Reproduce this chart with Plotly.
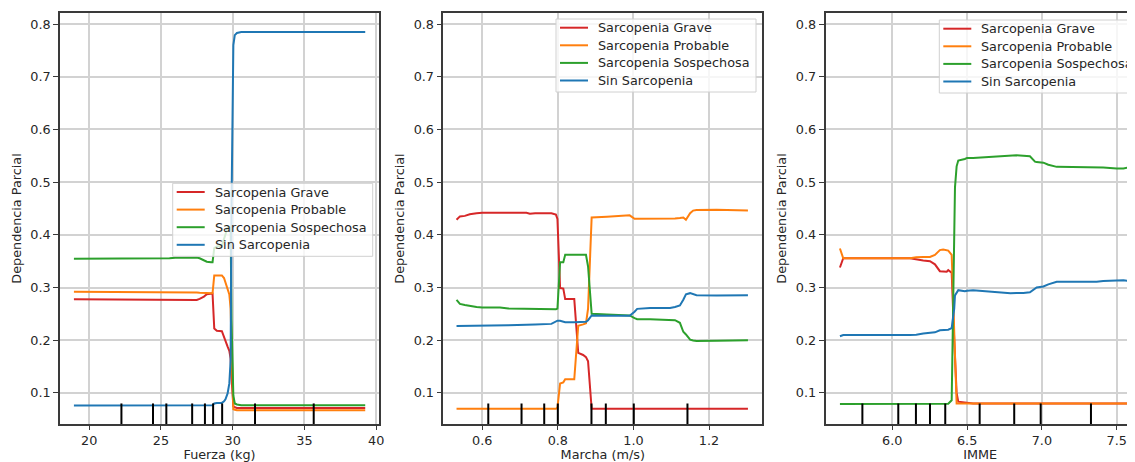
import plotly.graph_objects as go

# ---------------- data ----------------
series_names = ["Sarcopenia Grave", "Sarcopenia Probable", "Sarcopenia Sospechosa", "Sin Sarcopenia"]
series_colors = ["#d62728", "#ff7f0e", "#2ca02c", "#1f77b4"]

# Panel 1: Fuerza (kg)
fuerza_x = [18.94, 22.8, 23.2, 25.6, 26.0, 27.5, 27.7, 28.0, 28.2, 28.5, 28.6, 28.72, 28.9, 29.25,
            29.4, 29.5, 29.65, 29.77, 29.86, 29.92, 30.0, 30.05, 30.15, 30.3, 30.6, 39.24]
fuerza_grave = [0.2777, 0.2777, 0.2764, 0.2764, 0.2764, 0.2764, 0.2785, 0.2828, 0.2873, 0.2880, 0.2886,
                0.2223, 0.2180, 0.2170, 0.2050, 0.2000, 0.1880, 0.1800, 0.1650, 0.1300, 0.0850, 0.0746,
                0.0728, 0.0715, 0.0715, 0.0715]
fuerza_probable = [0.2918, 0.2918, 0.2918, 0.2918, 0.2906, 0.2906, 0.2900, 0.2892, 0.2892, 0.2892, 0.2890,
                   0.3230, 0.3230, 0.3230, 0.3180, 0.3100, 0.2990, 0.2870, 0.2600, 0.1800, 0.0900, 0.0690,
                   0.0680, 0.0671, 0.0671, 0.0671]
fuerza_sospechosa = [0.3545, 0.3545, 0.3555, 0.3555, 0.3565, 0.3570, 0.3555, 0.3520, 0.3490, 0.3480, 0.3480,
                     0.3750, 0.3780, 0.3790, 0.3930, 0.4000, 0.4140, 0.4150, 0.4130, 0.2400, 0.1250, 0.0950,
                     0.0800, 0.0780, 0.0766, 0.0766]
fuerza_sin = [0.0760, 0.0760, 0.0760, 0.0760, 0.0760, 0.0760, 0.0760, 0.0760, 0.0760, 0.0760, 0.0765,
              0.0800, 0.0810, 0.0810, 0.0840, 0.0880, 0.0990, 0.1180, 0.1620, 0.4500, 0.7000, 0.7600,
              0.7790, 0.7830, 0.7850, 0.7850]
fuerza_deciles = [22.25, 24.45, 25.38, 27.18, 28.07, 28.64, 29.27, 31.56, 35.65]

# Panel 2: Marcha (m/s)
marcha_x = [0.532, 0.541, 0.554, 0.567, 0.585, 0.600, 0.647, 0.669, 0.717, 0.726, 0.740, 0.783, 0.795,
            0.799, 0.806, 0.8145, 0.8195, 0.8435, 0.854, 0.867, 0.8745, 0.880, 0.8895, 0.930, 0.990,
            1.003, 1.010, 1.044, 1.097, 1.110, 1.123, 1.132, 1.139, 1.150, 1.158, 1.167, 1.220, 1.303]
marcha_grave = [0.4285, 0.4350, 0.4360, 0.4390, 0.4410, 0.4418, 0.4418, 0.4418, 0.4418, 0.4400, 0.4410,
                0.4410, 0.4383, 0.4300, 0.2990, 0.2980, 0.2780, 0.2780, 0.1760, 0.1720, 0.1680, 0.1600,
                0.0700, 0.0700, 0.0700, 0.0700, 0.0700, 0.0700, 0.0700, 0.0700, 0.0700, 0.0700, 0.0700,
                0.0700, 0.0700, 0.0700, 0.0700, 0.0700]
marcha_probable = [0.0700, 0.0700, 0.0700, 0.0700, 0.0700, 0.0700, 0.0700, 0.0700, 0.0700, 0.0700, 0.0700,
                   0.0700, 0.0700, 0.0720, 0.1180, 0.1200, 0.1260, 0.1260, 0.2276, 0.2300, 0.2320, 0.2600,
                   0.4330, 0.4345, 0.4370, 0.4305, 0.4305, 0.4305, 0.4305, 0.4310, 0.4320, 0.4330, 0.4285,
                   0.4410, 0.4460, 0.4470, 0.4475, 0.4460]
marcha_sospechosa = [0.2766, 0.2690, 0.2670, 0.2650, 0.2630, 0.2620, 0.2620, 0.2600, 0.2595, 0.2590, 0.2590,
                     0.2590, 0.2590, 0.2600, 0.3480, 0.3480, 0.3620, 0.3620, 0.3620, 0.3620, 0.3620, 0.3400,
                     0.2500, 0.2490, 0.2470, 0.2420, 0.2398, 0.2398, 0.2390, 0.2380, 0.2330, 0.2160, 0.2110,
                     0.2010, 0.1995, 0.1987, 0.1990, 0.2000]
marcha_sin = [0.2272, 0.2272, 0.2272, 0.2272, 0.2272, 0.2272, 0.2275, 0.2285, 0.2295, 0.2300, 0.2300,
              0.2310, 0.2350, 0.2370, 0.2370, 0.2360, 0.2340, 0.2340, 0.2340, 0.2340, 0.2350, 0.2380,
              0.2470, 0.2465, 0.2465, 0.2540, 0.2595, 0.2610, 0.2610, 0.2630, 0.2660, 0.2770, 0.2870,
              0.2893, 0.2870, 0.2854, 0.2850, 0.2854]
marcha_deciles = [0.616, 0.704, 0.764, 0.800, 0.889, 0.927, 1.001, 1.143]

# Panel 3: IMME
imme_x = [5.650, 5.672, 6.118, 6.160, 6.207, 6.252, 6.285, 6.318, 6.340, 6.364, 6.374, 6.397, 6.414,
          6.419, 6.430, 6.441, 6.485, 6.500, 6.540, 6.600, 6.653, 6.698, 6.790, 6.830, 6.876, 6.920,
          6.954, 6.965, 7.010, 7.043, 7.099, 7.366, 7.410, 7.500, 7.545, 7.600]
imme_grave = [0.3380, 0.3555, 0.3555, 0.3530, 0.3515, 0.3500, 0.3440, 0.3310, 0.3300, 0.3300, 0.3330,
              0.3280, 0.2000, 0.1600, 0.1000, 0.0833, 0.0820, 0.0815, 0.0800, 0.0800, 0.0800, 0.0800,
              0.0800, 0.0800, 0.0800, 0.0800, 0.0800, 0.0800, 0.0800, 0.0800, 0.0800, 0.0800, 0.0800,
              0.0800, 0.0800, 0.0800]
imme_probable = [0.3740, 0.3555, 0.3555, 0.3575, 0.3580, 0.3580, 0.3620, 0.3710, 0.3720, 0.3710, 0.3700,
                 0.3620, 0.2000, 0.1600, 0.0800, 0.0800, 0.0800, 0.0800, 0.0800, 0.0800, 0.0800, 0.0800,
                 0.0800, 0.0800, 0.0800, 0.0800, 0.0800, 0.0800, 0.0800, 0.0800, 0.0800, 0.0800, 0.0800,
                 0.0800, 0.0800, 0.0800]
imme_sospechosa = [0.0790, 0.0790, 0.0790, 0.0790, 0.0790, 0.0790, 0.0790, 0.0790, 0.0790, 0.0790, 0.0795,
                   0.0860, 0.4410, 0.4900, 0.5300, 0.5410, 0.5440, 0.5460, 0.5460, 0.5470, 0.5480, 0.5485,
                   0.5500, 0.5510, 0.5500, 0.5490, 0.5390, 0.5380, 0.5370, 0.5330, 0.5290, 0.5290, 0.5280,
                   0.5260, 0.5260, 0.5290]
imme_sin = [0.2076, 0.2100, 0.2100, 0.2105, 0.2127, 0.2135, 0.2150, 0.2190, 0.2195, 0.2200, 0.2200,
            0.2230, 0.2600, 0.2850, 0.2900, 0.2950, 0.2930, 0.2940, 0.2950, 0.2935, 0.2920, 0.2910,
            0.2890, 0.2895, 0.2895, 0.2910, 0.2990, 0.3000, 0.3020, 0.3060, 0.3110, 0.3110, 0.3125,
            0.3140, 0.3140, 0.3110]
imme_deciles = [5.80, 6.04, 6.158, 6.252, 6.354, 6.584, 6.815, 6.992, 7.328]

x_titles = ["Fuerza (kg)", "Marcha (m/s)", "IMME"]
y_title = "Dependencia Parcial"

panels = [
    (fuerza_x, [fuerza_grave, fuerza_probable, fuerza_sospechosa, fuerza_sin], fuerza_deciles),
    (marcha_x, [marcha_grave, marcha_probable, marcha_sospechosa, marcha_sin], marcha_deciles),
    (imme_x, [imme_grave, imme_probable, imme_sospechosa, imme_sin], imme_deciles),
]

# ---------------- layout geometry ----------------
# The page body has an 8px default margin, so the figure is offset by (8, 8).
OFF = 8
W, H = 1135 - OFF, 462 - OFF


def px_x(v):
    return (v - OFF) / W


def px_y(v):
    return 1 - (v - OFF) / H


x_domains = [[px_x(60), px_x(379)], [px_x(443.3), px_x(762.3)], [px_x(825.5), 1.0]]
y_domain = [px_y(424), px_y(13)]
x_ranges = [[17.97, 40.2], [0.497, 1.341], [5.5535, 7.6224]]
y_range = [0.041, 0.821]
# legend boxes: top-left corner in page pixels
legend_corner = [(172.7, 183.3), (556.0, 19.0), (939.3, 20.0)]
LEG_W, LEG_H = 200.0, 73.0
LEG_ROW0, LEG_ROW = 8.7, 17.6
LEG_LINE = (4.0, 32.0)
LEG_TEXT = 41.0

FONT = "DejaVu Sans"
TXT = "#262626"
FS = 12.8
GRID = "#d2d2d2"
SPINE = "#3a3a3a"

fig = go.Figure()

for p, (xs, ys_list, deciles) in enumerate(panels):
    xa = "x" if p == 0 else f"x{p+1}"
    ya = "y" if p == 0 else f"y{p+1}"
    for name, color, ys in zip(series_names, series_colors, ys_list):
        fig.add_trace(go.Scatter(
            x=xs, y=ys, mode="lines", name=name,
            line=dict(color=color, width=2),
            xaxis=xa, yaxis=ya, showlegend=False,
        ))
    for d in deciles:
        fig.add_shape(type="line", xref=xa, yref=f"{ya} domain",
                      x0=d, x1=d, y0=0, y1=0.05,
                      line=dict(color="black", width=2), layer="above")

    # legend (matplotlib style, compact rows)
    lx, ly = legend_corner[p]
    fig.add_shape(type="rect", xref="paper", yref="paper",
                  x0=px_x(lx), x1=px_x(lx + LEG_W), y0=px_y(ly + LEG_H), y1=px_y(ly),
                  fillcolor="rgba(255,255,255,0.8)", line=dict(color="#d0d0d0", width=1),
                  layer="above")
    for i, (name, color) in enumerate(zip(series_names, series_colors)):
        cy = ly + LEG_ROW0 + i * LEG_ROW
        fig.add_shape(type="line", xref="paper", yref="paper",
                      x0=px_x(lx + LEG_LINE[0]), x1=px_x(lx + LEG_LINE[1]),
                      y0=px_y(cy), y1=px_y(cy),
                      line=dict(color=color, width=2), layer="above")
        fig.add_annotation(x=px_x(lx + LEG_TEXT), y=px_y(cy), xref="paper", yref="paper",
                           text=name, showarrow=False, xanchor="left", yanchor="middle",
                           borderpad=0, font=dict(family=FONT, size=FS, color=TXT))

axis_common = dict(
    showgrid=True, gridcolor=GRID, gridwidth=1.5,
    showline=True, linecolor=SPINE, linewidth=1.5,
    ticks="outside", ticklen=5, tickwidth=1.2, tickcolor=SPINE,
    tickfont=dict(family=FONT, size=FS, color=TXT),
    zeroline=False, automargin=False,
)

layout = dict(
    width=W, height=H,
    margin=dict(l=0, r=0, t=0, b=0, autoexpand=False),
    paper_bgcolor="white", plot_bgcolor="white",
    font=dict(family=FONT, size=FS, color=TXT),
    showlegend=False,
)

xticks = [[20, 25, 30, 35, 40], [0.6, 0.8, 1.0, 1.2], [6.0, 6.5, 7.0, 7.5]]
xfmt = ["d", ".1f", ".1f"]
yticks = [0.1, 0.2, 0.3, 0.4, 0.5, 0.6, 0.7, 0.8]

for p in range(3):
    xk = "xaxis" if p == 0 else f"xaxis{p+1}"
    yk = "yaxis" if p == 0 else f"yaxis{p+1}"
    ya = "y" if p == 0 else f"y{p+1}"
    xa = "x" if p == 0 else f"x{p+1}"
    layout[xk] = dict(
        axis_common, domain=x_domains[p], range=x_ranges[p], anchor=ya,
        tickvals=xticks[p], tickformat=xfmt[p], mirror=True, ticklen=4,
        title=dict(text=x_titles[p], font=dict(family=FONT, size=FS, color=TXT), standoff=0),
    )
    layout[yk] = dict(
        axis_common, domain=y_domain, range=y_range, anchor=xa,
        tickvals=yticks, tickformat=".1f", mirror=(p != 2),
        title=dict(text=y_title, font=dict(family=FONT, size=FS, color=TXT), standoff=6),
    )

fig.update_layout(**layout)
fig.write_html("out.html")
